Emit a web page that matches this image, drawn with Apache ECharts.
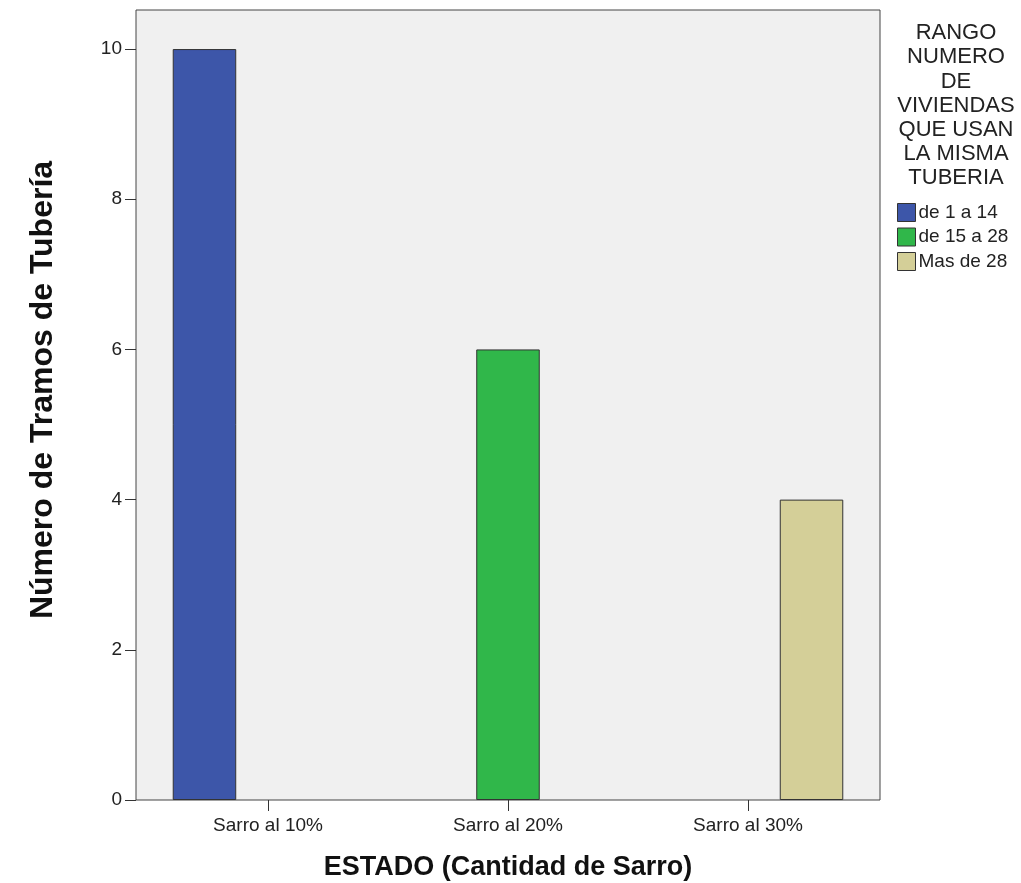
<!DOCTYPE html>
<html>
<head>
<meta charset="utf-8">
<script src="https://cdn.jsdelivr.net/npm/echarts@6/dist/echarts.min.js"></script>
<style>
html,body{margin:0;padding:0;background:#fff;}
#c{width:1021px;height:883px;}
</style>
</head>
<body>
<div id="c"></div>
<script>
var categories = ['Sarro al 10%', 'Sarro al 20%', 'Sarro al 30%'];
var seriesNames = ['de 1 a 14', 'de 15 a 28', 'Mas de 28'];
var seriesA = [10, null, null];
var seriesB = [null, 6, null];
var seriesC = [null, null, 4];
var yTicks = [0, 2, 4, 6, 8, 10];
var yMax = 10.52;
var legendTitleLines = ['RANGO', 'NUMERO', 'DE', 'VIVIENDAS', 'QUE USAN', 'LA MISMA', 'TUBERIA'];
var xTitle = 'ESTADO (Cantidad de Sarro)';
var yTitle = 'Número de Tramos de Tubería';
var colors = ['#3d56a9', '#30b74a', '#d4cf98'];

var FONT = '"Liberation Sans", Arial, sans-serif';
var chart = echarts.init(document.getElementById('c'), null, {renderer: 'canvas'});

var values = [seriesA, seriesB, seriesC];
var series = values.map(function (d, i) {
  return {
    name: seriesNames[i],
    type: 'bar',
    xAxisIndex: 1,
    yAxisIndex: 1,
    data: d,
    barGap: '0%',
    barCategoryGap: '20.6%',
    itemStyle: {color: colors[i], borderColor: '#333', borderWidth: 1},
    emphasis: {disabled: true}
  };
});

chart.setOption({
  animation: false,
  textStyle: {fontFamily: FONT},
  grid: [
    {left: 136, top: 10, width: 744, height: 790, show: true, outerBoundsMode: 'none', containLabel: false,
     backgroundColor: '#f0f0f0', borderColor: '#444', borderWidth: 1},
    {left: 148, top: 10, width: 720, height: 790, outerBoundsMode: 'none', containLabel: false}
  ],
  xAxis: [
    {gridIndex: 0, type: 'value', show: false, min: 0, max: 1},
    {gridIndex: 1, type: 'category', data: categories,
     axisLine: {show: false},
     axisTick: {show: true, alignWithLabel: true, length: 11, lineStyle: {color: '#333', width: 1}},
     axisLabel: {fontSize: 19, color: '#222', margin: 16, fontFamily: FONT},
     name: xTitle, nameLocation: 'middle', nameGap: 54,
     nameTextStyle: {fontSize: 27, fontWeight: 'bold', color: '#111', fontFamily: FONT}}
  ],
  yAxis: [
    {gridIndex: 0, type: 'value', show: false, min: 0, max: 1},
    {gridIndex: 1, type: 'value', min: 0, max: yMax, offset: 12,
     splitLine: {show: false},
     axisLine: {show: false},
     axisTick: {show: true, length: 11, customValues: yTicks, lineStyle: {color: '#333', width: 1}},
     axisLabel: {fontSize: 19, color: '#222', margin: 14, customValues: yTicks, fontFamily: FONT}}
  ],
  legend: {
    orient: 'vertical', left: 897, top: 203, padding: 0,
    itemWidth: 18, itemHeight: 18, itemGap: 5.5, icon: 'rect',
    textStyle: {fontSize: 19, color: '#222', fontFamily: FONT, padding: [0, 0, 0, -2]},
    itemStyle: {borderColor: '#333', borderWidth: 1},
    data: seriesNames,
    selectedMode: false
  },
  graphic: [{
    type: 'text', x: 956, y: 21,
    style: {text: legendTitleLines.join('\n'), align: 'center', verticalAlign: 'top',
            font: '22px ' + FONT, lineHeight: 24.2, fill: '#222'}
  }, {
    type: 'text', x: 43, y: 390, rotation: Math.PI / 2,
    style: {text: yTitle, align: 'center', verticalAlign: 'middle',
            font: 'bold 32px ' + FONT, fill: '#111'}
  }],
  series: series
});
</script>
</body>
</html>
